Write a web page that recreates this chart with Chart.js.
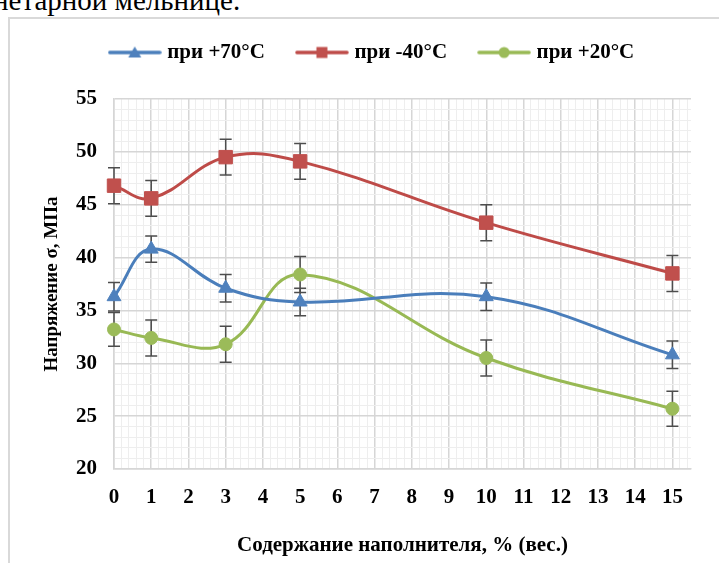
<!DOCTYPE html>
<html>
<head>
<meta charset="utf-8">
<script src="https://cdn.jsdelivr.net/npm/chart.js@4.4.1/dist/chart.umd.min.js"></script>
<style>
  body { margin: 0; background: #fff; }
  #wrap { position: relative; width: 719px; height: 563px; overflow: hidden; }
  #caption { position: absolute; left: -7px; top: -14px; font: 29px/29px "Liberation Serif", serif; color: #000; white-space: nowrap; }
  #frame { position: absolute; left: 8px; top: 17px; width: 760px; height: 600px; border: 2px solid #d9d9d9; }
  #chart { position: absolute; left: 0; top: 0; }
</style>
</head>
<body>
<div id="wrap">
  <div id="caption">нетарной мельнице.</div>
  <div id="frame"></div>
  <canvas id="chart" width="719" height="563"></canvas>
</div>
<script>
// filler content, % (wt.)
const fillerContent = [0, 1, 3, 5, 10, 15];
const seriesNames = ['при +70°C', 'при -40°C', 'при +20°C'];
// stress, MPa
const stressPlus70 = [36.3, 40.8, 37.1, 35.8, 36.3, 30.8];
const stressMinus40 = [46.8, 45.6, 49.5, 49.1, 43.3, 38.5];
const stressPlus20 = [33.2, 32.4, 31.8, 38.4, 30.5, 25.7];
// error bar half-widths
const errPlus70 = [1.35, 1.25, 1.3, 1.3, 1.3, 1.3];
const errMinus40 = [1.7, 1.7, 1.7, 1.7, 1.7, 1.7];
const errPlus20 = [1.6, 1.7, 1.7, 1.7, 1.7, 1.65];
const yTitle = 'Напряжение σ, МПа';
const xTitle = 'Содержание наполнителя, % (вес.)';

const lineColors = ['#4a7ebb', '#be4b48', '#98b954'];
const markerColors = ['#4f81bd', '#c0504d', '#9bbb59'];
const markerStyles = ['triangle', 'rect', 'circle'];
const markerSizes = [8, 9.5, 6.5];

Chart.defaults.font.family = '"Liberation Serif", "Times New Roman", serif';
Chart.defaults.color = '#000';

// legend sample: line with marker in the middle
function makeSample(color, fill, shape) {
    const c = document.createElement('canvas');
    c.width = 54;
    c.height = 18;
    const g = c.getContext('2d');
    g.strokeStyle = color;
    g.lineWidth = 3.5;
    g.lineCap = 'round';
    g.beginPath();
    g.moveTo(2, 9);
    g.lineTo(52, 9);
    g.stroke();
    g.fillStyle = fill;
    g.beginPath();
    if (shape === 'triangle') {
        g.moveTo(27, 3);
        g.lineTo(33.5, 14);
        g.lineTo(20.5, 14);
    } else if (shape === 'rect') {
        g.rect(21.5, 3.5, 11, 11);
    } else {
        g.arc(27, 9, 5.5, 0, Math.PI * 2);
    }
    g.fill();
    return c;
}
const samples = [0, 1, 2].map(i => makeSample(lineColors[i], markerColors[i], markerStyles[i]));

function isWhole(v) {
    return Math.abs(v - Math.round(v)) < 1e-6;
}

const errorBars = {
    id: 'errorBars',
    beforeDatasetsDraw(chart) {
        const { ctx, scales: { x, y } } = chart;
        ctx.save();
        ctx.strokeStyle = '#4d4d4d';
        ctx.lineWidth = 1.5;
        chart.data.datasets.forEach(ds => {
            ds.data.forEach((p, i) => {
                const px = x.getPixelForValue(p.x);
                const top = y.getPixelForValue(p.y + ds.errors[i]);
                const bot = y.getPixelForValue(p.y - ds.errors[i]);
                ctx.beginPath();
                ctx.moveTo(px, top);
                ctx.lineTo(px, bot);
                ctx.moveTo(px - 6, top);
                ctx.lineTo(px + 6, top);
                ctx.moveTo(px - 6, bot);
                ctx.lineTo(px + 6, bot);
                ctx.stroke();
            });
        });
        ctx.restore();
    }
};

// extra room under the legend, and shift it to the centre of the frame
const legendPlace = {
    id: 'legendPlace',
    afterInit(chart) {
        const fit = chart.legend.fit;
        chart.legend.fit = function () {
            fit.call(this);
            this.height += 26;
        };
    },
    afterLayout(chart) {
        chart.legend.left += 28;
        chart.legend.right += 28;
    }
};

const seriesValues = [stressPlus70, stressMinus40, stressPlus20];
const seriesErrors = [errPlus70, errMinus40, errPlus20];

const datasets = seriesValues.map((values, i) => ({
    label: seriesNames[i],
    data: fillerContent.map((x, j) => ({ x: x, y: values[j] })),
    errors: seriesErrors[i],
    borderColor: lineColors[i],
    backgroundColor: markerColors[i],
    pointBackgroundColor: markerColors[i],
    pointBorderColor: markerColors[i],
    pointBorderWidth: 1,
    pointStyle: markerStyles[i],
    pointRadius: markerSizes[i],
    borderWidth: 3,
    tension: 0.4,
    clip: false
}));

new Chart(document.getElementById('chart'), {
    type: 'line',
    data: { datasets: datasets },
    plugins: [errorBars, legendPlace],
    options: {
        responsive: false,
        animation: false,
        layout: { padding: { top: 7, right: 28, left: 0, bottom: 0 } },
        scales: {
            x: {
                type: 'linear',
                min: 0,
                max: 15.5,
                afterFit: s => { s.height = 94; },
                ticks: {
                    stepSize: 0.2,
                    autoSkip: false,
                    includeBounds: false,
                    maxRotation: 0,
                    padding: 16,
                    font: { size: 21, weight: 'bold' },
                    callback: v => isWhole(v) ? Math.round(v) : ''
                },
                grid: {
                    drawTicks: false,
                    color: c => isWhole(c.tick.value) ? '#d6d6d6' : '#eeeeee',
                    lineWidth: c => isWhole(c.tick.value) ? 1.5 : 1
                },
                border: { color: '#d6d6d6', width: 1.5 },
                title: {
                    display: true,
                    text: xTitle,
                    font: { size: 21, weight: 'bold' },
                    padding: { top: 0, bottom: 5 }
                }
            },
            y: {
                min: 20,
                max: 55,
                afterFit: s => { s.width = 114; },
                ticks: {
                    stepSize: 1,
                    autoSkip: false,
                    padding: 17,
                    font: { size: 21, weight: 'bold' },
                    callback: v => v % 5 === 0 ? v : ''
                },
                grid: {
                    drawTicks: false,
                    color: c => c.tick.value % 5 === 0 ? '#d6d6d6' : '#eeeeee',
                    lineWidth: c => c.tick.value % 5 === 0 ? 1.5 : 1
                },
                border: { color: '#d6d6d6', width: 1.5 },
                title: {
                    display: true,
                    text: yTitle,
                    font: { size: 19, weight: 'bold' },
                    padding: { top: 41, bottom: 0 }
                }
            }
        },
        plugins: {
            legend: {
                position: 'top',
                labels: {
                    usePointStyle: true,
                    pointStyleWidth: 44,
                    padding: 35,
                    font: { size: 21, weight: 'bold' },
                    generateLabels: chart => {
                        const items = Chart.defaults.plugins.legend.labels.generateLabels(chart);
                        items.forEach(item => { item.pointStyle = samples[item.datasetIndex]; });
                        return items;
                    }
                }
            },
            tooltip: { enabled: false }
        }
    }
});
</script>
</body>
</html>
